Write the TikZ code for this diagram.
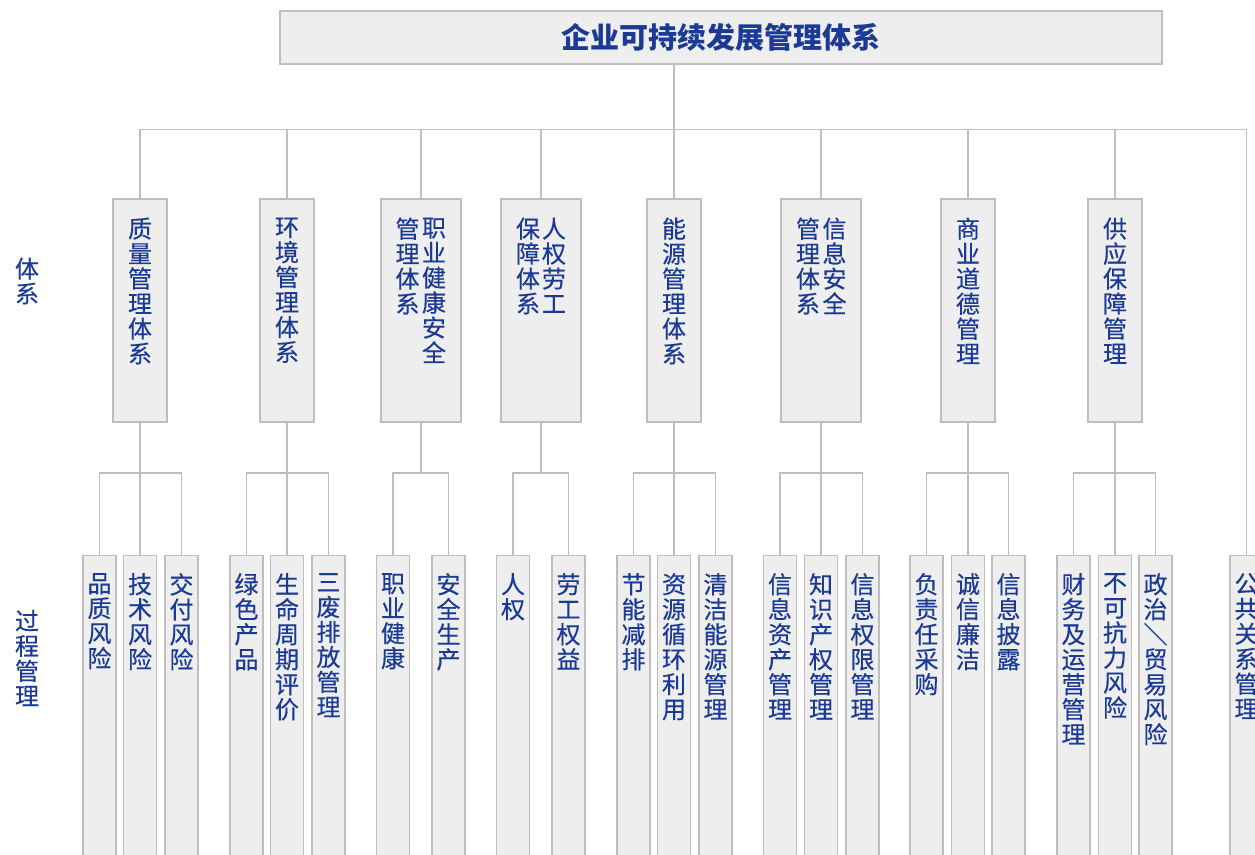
\documentclass[tikz,border=0pt]{standalone}
\usepackage{fontspec}
\newfontfamily\cjk[FakeBold=0.4]{Noto Sans CJK SC}
\newfontfamily\cjktitle{Noto Sans CJK SC}
\usepackage{xcolor}
\usetikzlibrary{positioning}

\definecolor{txtblue}{RGB}{26,58,150}
\definecolor{boxgray}{RGB}{238,238,238}
\definecolor{linegray}{RGB}{190,190,190}

\tikzset{
  conn/.style={draw=linegray, line width=1.2pt},
  topbox/.style={draw=linegray, fill=boxgray, line width=1.2pt, minimum width=882pt, minimum height=53pt, inner sep=0pt, text=txtblue, font=\cjktitle\bfseries\fontsize{29}{30}\selectfont},
  midbox/.style={draw=linegray, fill=boxgray, line width=1.2pt, minimum width=54pt, minimum height=223pt, inner sep=0pt},
  widebox/.style={midbox, minimum width=80pt},
  lowbox/.style={draw=linegray, fill=boxgray, line width=1.2pt, minimum width=33pt, minimum height=315pt, inner sep=0pt, anchor=north},
  vtext/.style={inner sep=0pt, align=center, text=txtblue, font=\cjk\fontsize{24}{25}\selectfont},
}

\begin{document}
\begin{tikzpicture}[x=1pt,y=-1pt]
    \useasboundingbox (0,0) rectangle (1255,854);
    \clip (0,0) rectangle (1255,854);

    % Title
    \node[topbox] (title) at (721,37.5) {企业可持续发展管理体系};

    % Row labels
    \node[vtext] (rowA) at (27,281) {体\\系};
    \node[vtext] (rowB) at (27,658) {过\\程\\管\\理};

    %Shape: middle boxes
    \node[midbox] (qm) at (140,310.5) {};
    \node[vtext, below=19pt of qm.north] (qmt) {质\\量\\管\\理\\体\\系};
    \node[midbox] (em) at (287,310.5) {};
    \node[vtext, below=19pt of em.north] (emt) {环\\境\\管\\理\\体\\系};
    \node[widebox] (om) at (421,310.5) {};
    \node[vtext, below=19pt of om.north, xshift=13pt] (omr) {职\\业\\健\\康\\安\\全};
    \node[vtext, below=19pt of om.north, xshift=-13.5pt] (oml) {管\\理\\体\\系};
    \node[widebox] (hm) at (541,310.5) {};
    \node[vtext, below=19pt of hm.north, xshift=13pt] (hmr) {人\\权\\劳\\工};
    \node[vtext, below=19pt of hm.north, xshift=-13pt] (hml) {保\\障\\体\\系};
    \node[midbox] (nm) at (674,310.5) {};
    \node[vtext, below=19pt of nm.north] (nmt) {能\\源\\管\\理\\体\\系};
    \node[widebox] (sm) at (821,310.5) {};
    \node[vtext, below=19pt of sm.north, xshift=13.5pt] (smr) {信\\息\\安\\全};
    \node[vtext, below=19pt of sm.north, xshift=-13pt] (sml) {管\\理\\体\\系};
    \node[midbox] (bm) at (968,310.5) {};
    \node[vtext, below=19pt of bm.north] (bmt) {商\\业\\道\\德\\管\\理};
    \node[midbox] (gm) at (1115,310.5) {};
    \node[vtext, below=19pt of gm.north] (gmt) {供\\应\\保\\障\\管\\理};

    %Shape: lower boxes
    \node[lowbox] (q1) at (99.5,555) {};
    \node[vtext, below=18pt of q1.north] (q1t) {品\\质\\风\\险};
    \node[lowbox] (q2) at (140,555) {};
    \node[vtext, below=18pt of q2.north] (q2t) {技\\术\\风\\险};
    \node[lowbox] (q3) at (181.5,555) {};
    \node[vtext, below=18pt of q3.north] (q3t) {交\\付\\风\\险};
    \node[lowbox] (e1) at (246.5,555) {};
    \node[vtext, below=18pt of e1.north] (e1t) {绿\\色\\产\\品};
    \node[lowbox] (e2) at (287,555) {};
    \node[vtext, below=18pt of e2.north] (e2t) {生\\命\\周\\期\\评\\价};
    \node[lowbox] (e3) at (328.5,555) {};
    \node[vtext, below=18pt of e3.north] (e3t) {三\\废\\排\\放\\管\\理};
    \node[lowbox] (o1) at (393,555) {};
    \node[vtext, below=18pt of o1.north] (o1t) {职\\业\\健\\康};
    \node[lowbox] (o2) at (448.5,555) {};
    \node[vtext, below=18pt of o2.north] (o2t) {安\\全\\生\\产};
    \node[lowbox] (h1) at (513,555) {};
    \node[vtext, below=18pt of h1.north] (h1t) {人\\权};
    \node[lowbox] (h2) at (568.5,555) {};
    \node[vtext, below=18pt of h2.north] (h2t) {劳\\工\\权\\益};
    \node[lowbox] (n1) at (633.5,555) {};
    \node[vtext, below=18pt of n1.north] (n1t) {节\\能\\减\\排};
    \node[lowbox] (n2) at (674,555) {};
    \node[vtext, below=18pt of n2.north] (n2t) {资\\源\\循\\环\\利\\用};
    \node[lowbox] (n3) at (715.5,555) {};
    \node[vtext, below=18pt of n3.north] (n3t) {清\\洁\\能\\源\\管\\理};
    \node[lowbox] (s1) at (780,555) {};
    \node[vtext, below=18pt of s1.north] (s1t) {信\\息\\资\\产\\管\\理};
    \node[lowbox] (s2) at (821,555) {};
    \node[vtext, below=18pt of s2.north] (s2t) {知\\识\\产\\权\\管\\理};
    \node[lowbox] (s3) at (862.5,555) {};
    \node[vtext, below=18pt of s3.north] (s3t) {信\\息\\权\\限\\管\\理};
    \node[lowbox] (b1) at (926.5,555) {};
    \node[vtext, below=18pt of b1.north] (b1t) {负\\责\\任\\采\\购};
    \node[lowbox] (b2) at (968,555) {};
    \node[vtext, below=18pt of b2.north] (b2t) {诚\\信\\廉\\洁};
    \node[lowbox] (b3) at (1008.5,555) {};
    \node[vtext, below=18pt of b3.north] (b3t) {信\\息\\披\\露};
    \node[lowbox] (g1) at (1073.5,555) {};
    \node[vtext, below=18pt of g1.north] (g1t) {财\\务\\及\\运\\营\\管\\理};
    \node[lowbox] (g2) at (1115,555) {};
    \node[vtext, below=18pt of g2.north] (g2t) {不\\可\\抗\\力\\风\\险};
    \node[lowbox] (g3) at (1155.5,555) {};
    \node[vtext, below=18pt of g3.north] (g3t) {政\\治\\\rotatebox[origin=c]{-90}{／}\\贸\\易\\风\\险};
    \node[lowbox] (p1) at (1246.5,555) {};
    \node[vtext, below=18pt of p1.north] (p1t) {公\\共\\关\\系\\管\\理};

    %Straight Lines: upper tree
    \draw[conn] (title.south -| nm.north) -- (nm.north);
    \draw[conn] (qm.north) -- ++(0,-69) -| (p1.north);
    \draw[conn] (em.north) -- ++(0,-69);
    \draw[conn] (om.north) -- ++(0,-69);
    \draw[conn] (hm.north) -- ++(0,-69);
    \draw[conn] (sm.north) -- ++(0,-69);
    \draw[conn] (bm.north) -- ++(0,-69);
    \draw[conn] (gm.north) -- ++(0,-69);

    %Straight Lines: lower tree
    \draw[conn] (qm.south) -- (q2.north);
    \draw[conn] (q1.north) -- ++(0,-82) -| (q3.north);
    \draw[conn] (em.south) -- (e2.north);
    \draw[conn] (e1.north) -- ++(0,-82) -| (e3.north);
    \draw[conn] (om.south) -- ++(0,51);
    \draw[conn] (o1.north) -- ++(0,-82) -| (o2.north);
    \draw[conn] (hm.south) -- ++(0,51);
    \draw[conn] (h1.north) -- ++(0,-82) -| (h2.north);
    \draw[conn] (nm.south) -- (n2.north);
    \draw[conn] (n1.north) -- ++(0,-82) -| (n3.north);
    \draw[conn] (sm.south) -- (s2.north);
    \draw[conn] (s1.north) -- ++(0,-82) -| (s3.north);
    \draw[conn] (bm.south) -- (b2.north);
    \draw[conn] (b1.north) -- ++(0,-82) -| (b3.north);
    \draw[conn] (gm.south) -- (g2.north);
    \draw[conn] (g1.north) -- ++(0,-82) -| (g3.north);
\end{tikzpicture}
\end{document}
